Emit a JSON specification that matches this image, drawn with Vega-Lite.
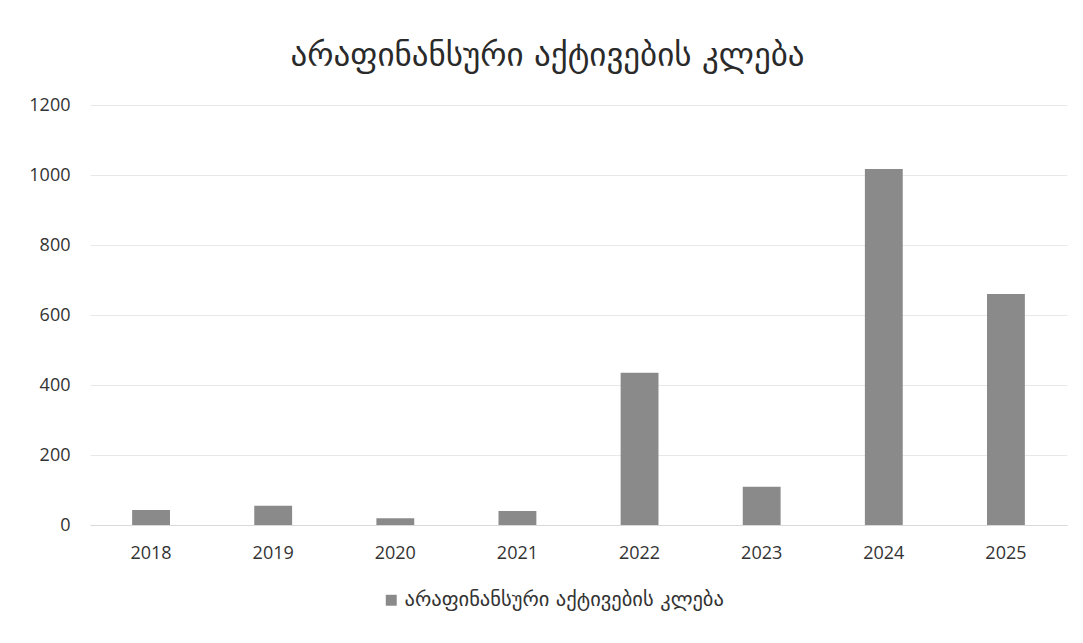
{
  "$schema": "https://vega.github.io/schema/vega-lite/v6.json",
  "autosize": {"type": "none"},
  "width": 977,
  "height": 420,
  "padding": {"left": 90, "top": 105, "right": 16, "bottom": 118},
  "background": "white",
  "config": {"view": {"stroke": null}},
  "title": {
    "text": "არაფინანსური აქტივების კლება",
    "font": "DejaVu Sans",
    "fontSize": 33,
    "fontWeight": "normal",
    "color": "#2a2a2a",
    "anchor": "middle",
    "dx": -31,
    "offset": 23
  },
  "data": {
    "values": [
      {"year": "2018", "value": 43, "series": "არაფინანსური აქტივების კლება"},
      {"year": "2019", "value": 55, "series": "არაფინანსური აქტივების კლება"},
      {"year": "2020", "value": 19, "series": "არაფინანსური აქტივების კლება"},
      {"year": "2021", "value": 40, "series": "არაფინანსური აქტივების კლება"},
      {"year": "2022", "value": 435, "series": "არაფინანსური აქტივების კლება"},
      {"year": "2023", "value": 109, "series": "არაფინანსური აქტივების კლება"},
      {"year": "2024", "value": 1017, "series": "არაფინანსური აქტივების კლება"},
      {"year": "2025", "value": 660, "series": "არაფინანსური აქტივების კლება"}
    ]
  },
  "mark": {"type": "bar"},
  "encoding": {
    "x": {
      "field": "year",
      "type": "nominal",
      "title": null,
      "scale": {"paddingInner": 0.69, "paddingOuter": 0.345},
      "axis": {
        "labelAngle": 0,
        "labelFont": "Open Sans",
        "labelFontSize": 18,
        "labelColor": "#333333",
        "labelPadding": 19,
        "ticks": false,
        "domainColor": "#d9d9d9",
        "domainWidth": 1
      }
    },
    "y": {
      "field": "value",
      "type": "quantitative",
      "title": null,
      "scale": {"domain": [0, 1200]},
      "axis": {
        "values": [0, 200, 400, 600, 800, 1000, 1200],
        "format": "d",
        "labelFont": "Open Sans",
        "labelFontSize": 18,
        "labelColor": "#333333",
        "labelPadding": 20,
        "ticks": false,
        "domain": false,
        "gridColor": "#e8e8e8",
        "gridWidth": 1
      }
    },
    "color": {
      "field": "series",
      "type": "nominal",
      "scale": {"range": ["#8a8a8a"]},
      "legend": {
        "title": null,
        "orient": "none",
        "legendX": 291,
        "legendY": 485,
        "direction": "horizontal",
        "symbolType": "square",
        "symbolSize": 120,
        "symbolOffset": 0,
        "labelFont": "DejaVu Sans",
        "labelFontSize": 20.5,
        "labelColor": "#333333",
        "labelLimit": 0,
        "labelOffset": 3
      }
    }
  }
}
